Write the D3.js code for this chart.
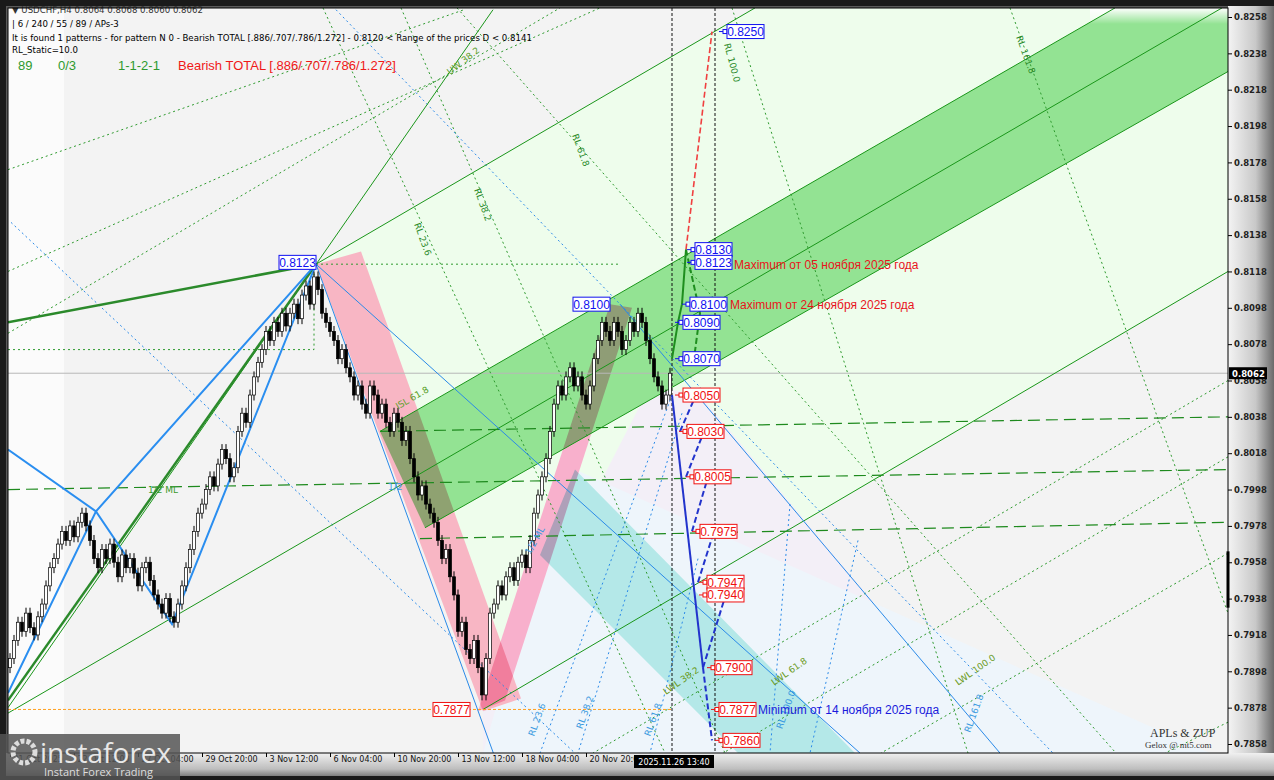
<!DOCTYPE html>
<html><head><meta charset="utf-8">
<script src="https://cdn.jsdelivr.net/npm/d3@7"></script>
<style>body{margin:0;background:#fff}svg{display:block}</style>
</head><body><svg id="c" width="1274" height="780"></svg>
<script>
// ---------- DATA ----------
const closes = [
0.7905,0.7915,0.7925,0.7920,0.7930,0.7922,0.7918,0.7928,0.7935,0.7945,
0.7955,0.7960,0.7968,0.7975,0.7970,0.7978,0.7972,0.7980,0.7985,0.7978,
0.7970,0.7960,0.7955,0.7965,0.7960,0.7968,0.7958,0.7950,0.7962,0.7955,
0.7960,0.7952,0.7945,0.7955,0.7958,0.7948,0.7940,0.7935,0.7930,0.7938,
0.7928,0.7925,0.7935,0.7945,0.7955,0.7965,0.7975,0.7985,0.7990,0.7998,
0.8005,0.8000,0.8012,0.8020,0.8015,0.8005,0.8010,0.8030,0.8040,0.8035,
0.8050,0.8060,0.8068,0.8075,0.8085,0.8080,0.8090,0.8085,0.8095,0.8088,
0.8095,0.8100,0.8092,0.8105,0.8110,0.8100,0.8115,0.8108,0.8095,0.8090,
0.8085,0.8080,0.8070,0.8075,0.8065,0.8060,0.8050,0.8055,0.8045,0.8040,
0.8055,0.8050,0.8040,0.8045,0.8035,0.8030,0.8040,0.8035,0.8025,0.8030,
0.8015,0.8005,0.7995,0.8000,0.7990,0.7985,0.7980,0.7970,0.7960,0.7965,
0.7950,0.7940,0.7920,0.7925,0.7910,0.7905,0.7915,0.7900,0.7885,0.7905,
0.7930,0.7935,0.7945,0.7940,0.7950,0.7955,0.7948,0.7958,0.7962,0.7955,
0.7970,0.7985,0.7995,0.8005,0.8015,0.8030,0.8045,0.8055,0.8050,0.8060,
0.8065,0.8055,0.8060,0.8050,0.8045,0.8055,0.8070,0.8080,0.8090,0.8085,
0.8080,0.8090,0.8085,0.8075,0.8080,0.8090,0.8085,0.8095,0.8090,0.8080,
0.8070,0.8060,0.8055,0.8045,0.8050,0.8062];
const firstOpen = 0.7900;
const wick = 0.0003;
const priceTicks = [0.8258,0.8238,0.8218,0.8198,0.8178,0.8158,0.8138,0.8118,0.8098,0.8078,0.8058,0.8038,0.8018,0.7998,0.7978,0.7958,0.7938,0.7918,0.7898,0.7878,0.7858];
const timeTickBars = [0,16,32,48,64,80,96,112,128,144];
const timeTickLabels = ["21 Oct 2025","22 Oct 12:00","27 Oct 04:00","29 Oct 20:00","3 Nov 12:00","6 Nov 04:00","10 Nov 20:00","13 Nov 12:00","18 Nov 04:00","20 Nov 20:00"];
const currentPrice = 0.8062;
const cursorBar = 165.5, cursorLabel = "2025.11.26 13:40";
const targetBar = 176.25;

// regions: [bar, price]
const paleGreen = [[76.5,0.8122],[186.25,0.8263],[304.5,0.8263],[304.5,0.8118],[118.25,0.7876]];
const lavender = [[118.25,0.7876],[160,0.8055],[172.5,0.8050],[247.5,0.7853],[118.25,0.7853]];
const paleBlue = [[132.5,0.7962],[141.25,0.8009],[300,0.7853],[118.25,0.7853]];
const cyanBand = [[141.25,0.8009],[211.25,0.7853],[182,0.7853],[132.5,0.7962]];
const greenBand = [[92.5,0.8030],[276.25,0.8263],[304.5,0.8263],[304.5,0.8228],[103.75,0.7977]];
const greenBandEdges = [[[92.5,0.8030],[276.25,0.8263]],[[103.75,0.7977],[304.5,0.8228]]];
const pinkBand1 = [[76.5,0.8122],[87.75,0.8129],[127.75,0.7883],[118.25,0.7876]];
const pinkBand2 = [[117,0.7876],[123.75,0.7882],[155.5,0.8098],[150,0.8100]];

const greenSolid = [
 [[76.5,0.8122],[186.25,0.8263]],
 [[-0.5,0.7878],[120.75,0.8262]],
 [[-0.5,0.7875],[303,0.8263]],
 [[118.25,0.7877],[304.5,0.8118]]];
const greenThick = [[[-0.5,0.8090],[76.5,0.8122]],[[-0.5,0.7882],[76.5,0.8122]]];
const blueThick = [[[-0.5,0.8020],[21.5,0.7986],[40.5,0.7924],[76.5,0.8122]],[[-0.5,0.7886],[21.5,0.7986],[76.5,0.8122]]];
const blueThin = [[[76.5,0.8122],[121.5,0.7849]],[[76.5,0.8122],[212.5,0.7853]],[[152.5,0.8100],[247.5,0.7853]]];
const blueDotted = [[[81.5,0.8262],[262.5,0.7849]],[[0.25,0.8145],[147.5,0.7840]],
 [[165.5,0.8050],[132.5,0.7853]],[[168,0.8040],[142,0.7853]],[[172,0.7960],[160,0.7853]],[[195,0.7990],[190,0.7853]],[[212,0.7970],[200,0.7853]]];
const greenDotted = [
 [[-0.5,0.8174],[113.5,0.8262]],[[-0.5,0.8118],[147.5,0.8263]],[[-0.5,0.8084],[137.5,0.8263]],
 [[78.25,0.8263],[163.75,0.7853]],[[97.75,0.8263],[178.75,0.7853]],[[111.75,0.8263],[276.5,0.7853]],
 [[180.5,0.8263],[239.5,0.7853]],[[250,0.8263],[304.5,0.7930]],
 [[304.5,0.8058],[145.75,0.7853]],[[304.5,0.8016],[178.25,0.7853]],[[304.5,0.7963],[217.75,0.7853]],[[304.5,0.7870],[288.75,0.7853]],
 [[-0.5,0.8075],[76,0.8075],[76,0.8122]],[[76.5,0.8122],[152.5,0.8122]]];
const greenLongDash = [[[92.5,0.8030],[304.5,0.8038]],[[-0.5,0.7998],[304.5,0.8009]],[[102.5,0.7971],[304.5,0.7980]]];
const redProj = [[169,0.8130],[175.5,0.8250]];
const greenProj = [[165.5,0.8070],[167,0.8090],[168,0.8100],[169,0.8130]];
const greenProjDash = [[[169,0.8130],[172.5,0.8095],[171,0.8070]]];
const blueProj = [[165.5,0.8050],[173.25,0.7900]];
const blueProjDash = [[[167.5,0.8030],[171.5,0.8050]],[[169,0.8005],[173.5,0.8030]],[[170.5,0.7975],[174.5,0.8005]],[[172,0.7947],[176,0.7975]],[[173.25,0.7900],[178.5,0.7937]],[[173.25,0.7900],[175.5,0.7860]]];

const boxLabels = [
 {p:0.8250,b:179.25,c:"blue"},{p:0.8130,b:171.25,c:"blue"},{p:0.8123,b:171.25,c:"blue"},
 {p:0.8100,b:170,c:"blue"},{p:0.8090,b:168.25,c:"blue"},{p:0.8070,b:168.25,c:"blue"},
 {p:0.8050,b:168.25,c:"red"},{p:0.8030,b:169.25,c:"red"},{p:0.8005,b:171,c:"red"},
 {p:0.7975,b:172.5,c:"red"},{p:0.7947,b:174.25,c:"red"},{p:0.7940,b:174.25,c:"red"},
 {p:0.7900,b:176.25,c:"red"},{p:0.7877,b:177.25,c:"red"},{p:0.7860,b:178.25,c:"red"}];
const leftLabels = [{p:0.8123,b:76.5,c:"blue"},{p:0.8100,b:150,c:"blue"},{p:0.7877,b:115,c:"red"}];
const notes = [
 {t:"Maximum от 05 ноября 2025 года",p:0.8122,b:181,c:"#e8141c"},
 {t:"Maximum от 24 ноября 2025 года",p:0.8100,b:180,c:"#e8141c"},
 {t:"Minimum от 14 ноября 2025 года",p:0.7877,b:187,c:"#1a1adc"}];
const lineTags = [
 {t:"UW 38.2",b:110,p:0.8226,r:-38,c:"#5aa02a"},{t:"RL 61.8",b:140.5,p:0.8193,r:70,c:"#2a8a2a"},
 {t:"RL 38.2",b:116,p:0.8163,r:70,c:"#2a8a2a"},{t:"RL 23.6",b:101,p:0.8144,r:70,c:"#2a8a2a"},
 {t:"RL 161.8",b:251.5,p:0.8247,r:70,c:"#2a8a2a"},{t:"RL 100.0",b:178.5,p:0.8243,r:75,c:"#2a8a2a"},
 {t:"1/2 ML",b:34.5,p:0.7996,r:0,c:"#3a9a2a"},{t:"1/2",b:94.5,p:0.7998,r:0,c:"#3a9ae0"},
 {t:"LWL 61.8",b:191,p:0.7890,r:-35,c:"#6a9a1a"},{t:"LWL 100.0",b:237,p:0.7890,r:-35,c:"#6a9a1a"},
 {t:"LWL 38.2",b:164,p:0.7885,r:-35,c:"#6a9a1a"},
 {t:"RL 23.6",b:131,p:0.7862,r:-70,c:"#3a9ae0"},{t:"RL 38.2",b:143,p:0.7866,r:-70,c:"#3a9ae0"},
 {t:"RL 61.8",b:160,p:0.7862,r:-70,c:"#3a9ae0"},{t:"RL 100.0",b:193,p:0.7866,r:-70,c:"#3a9ae0"},
 {t:"RL 161.8",b:240,p:0.7864,r:-70,c:"#3a9ae0"},
 {t:"1/2 ML",b:130,p:0.7962,r:-60,c:"#3a9ae0"},{t:"ISL 61.8",b:97,p:0.8042,r:-30,c:"#5aa02a"}];

// ---------- DRAW ----------
const svg = d3.select("#c");
const L=8,R=1228,T=8,B=753;
const x = d3.scaleLinear().domain([-0.5,304.5]).range([L,R]);
const y = d3.scaleLinear().domain([0.7858,0.8258]).range([744,17]);
const font = "'DejaVu Sans', Verdana, sans-serif";

const defs = svg.append("defs");
const gv = defs.append("linearGradient").attr("id","gv").attr("x1",0).attr("x2",1);
gv.append("stop").attr("offset",0).attr("stop-color","#f4f4f4");
gv.append("stop").attr("offset",0.6).attr("stop-color","#c8c8c8");
gv.append("stop").attr("offset",1).attr("stop-color","#6a6a6a");
const gh = defs.append("linearGradient").attr("id","gh").attr("x1",0).attr("x2",0).attr("y1",0).attr("y2",1);
gh.append("stop").attr("offset",0).attr("stop-color","#f0f0f0");
gh.append("stop").attr("offset",0.6).attr("stop-color","#bdbdbd");
gh.append("stop").attr("offset",1).attr("stop-color","#5a5a5a");
const gt = defs.append("linearGradient").attr("id","gt").attr("x1",0).attr("x2",0).attr("y1",0).attr("y2",1);
gt.append("stop").attr("offset",0).attr("stop-color","#ffffff").attr("stop-opacity",1);
gt.append("stop").attr("offset",1).attr("stop-color","#ffffff").attr("stop-opacity",0);
defs.append("clipPath").attr("id","clip").append("rect").attr("x",L).attr("y",T).attr("width",R-L).attr("height",B-T);

svg.append("rect").attr("width",1274).attr("height",780).attr("fill","#5a5a5a");
svg.append("rect").attr("x",R).attr("y",0).attr("width",1274-R).attr("height",780).attr("fill","url(#gv)");
svg.append("rect").attr("x",0).attr("y",B).attr("width",1274).attr("height",780-B).attr("fill","url(#gh)");
svg.append("rect").attr("x",0).attr("y",0).attr("width",1274).attr("height",6).attr("fill","#1a1a1a");
svg.append("rect").attr("x",0).attr("y",0).attr("width",6).attr("height",780).attr("fill","#1a1a1a");
svg.append("rect").attr("x",0).attr("y",776).attr("width",1274).attr("height",4).attr("fill","#1a1a1a");

const plot = svg.append("g").attr("clip-path","url(#clip)");
plot.append("rect").attr("x",L).attr("y",T).attr("width",R-L).attr("height",B-T).attr("fill","#f3f3f3");
plot.append("rect").attr("x",L).attr("y",T).attr("width",56).attr("height",B-T).attr("fill","#fbfbfb");

const poly = d => d.map(p=>[x(p[0]),y(p[1])].join(",")).join(" ");
const line = d3.line().x(p=>x(p[0])).y(p=>y(p[1]));

plot.append("polygon").attr("points",poly(paleGreen)).attr("fill","#eefdec");
plot.append("polygon").attr("points",poly(lavender)).attr("fill","#f3eff7");
plot.append("polygon").attr("points",poly(paleBlue)).attr("fill","#eef5fb");
const bands = plot.append("g").style("isolation","isolate");
bands.append("polygon").attr("points",poly(cyanBand)).attr("fill","#b4e8e8");
bands.append("polygon").attr("points",poly(greenBand)).attr("fill","#93e393").style("mix-blend-mode","multiply");
bands.append("polygon").attr("points",poly(pinkBand1)).attr("fill","#f8b6c4").style("mix-blend-mode","multiply");
bands.append("polygon").attr("points",poly(pinkBand2)).attr("fill","#f8b0cc").style("mix-blend-mode","multiply");
plot.append("rect").attr("x",1090).attr("y",T).attr("width",R-1090).attr("height",16).attr("fill","url(#gt)");

function draw(list, color, w, dash){
  list.forEach(d=>plot.append("path").attr("d",line(d)).attr("fill","none").attr("stroke",color).attr("stroke-width",w).attr("stroke-dasharray",dash||null));
}
plot.append("line").attr("x1",L).attr("x2",R).attr("y1",y(currentPrice)).attr("y2",y(currentPrice)).attr("stroke","#b8b8b8");
draw(greenDotted,"#2e9a2e",1,"2,3");
draw(blueDotted,"#2a8ae8",1,"2,3");
draw(greenLongDash,"#1e8a1e",1.2,"12,6");
draw(greenSolid,"#1a961a",1);
draw(greenBandEdges,"#1a961a",1);
draw(blueThin,"#2a8ae8",1);
draw(greenThick,"#2b8a2b",2.5);
draw(blueThick,"#2a8ef0",2);
plot.append("line").attr("x1",L).attr("x2",x(cursorBar)).attr("y1",y(0.7877)).attr("y2",y(0.7877)).attr("stroke","#ffa020").attr("stroke-dasharray","3,2");
[cursorBar,targetBar].forEach(b=>plot.append("line").attr("x1",x(b)).attr("x2",x(b)).attr("y1",T).attr("y2",B).attr("stroke","#111").attr("stroke-dasharray","3,2"));

const cg = plot.append("g");
closes.forEach((c,i)=>{
  const o = i===0?firstOpen:closes[i-1];
  const hi = Math.max(o,c)+wick, lo = Math.min(o,c)-wick;
  const cx = x(i);
  cg.append("line").attr("x1",cx).attr("x2",cx).attr("y1",y(hi)).attr("y2",y(lo)).attr("stroke","#000");
  const top = y(Math.max(o,c)), h = Math.max(1,Math.abs(y(o)-y(c)));
  cg.append("rect").attr("x",cx-1.5).attr("y",top).attr("width",3).attr("height",h)
    .attr("fill",c>=o?"#fff":"#000").attr("stroke","#000").attr("stroke-width",0.7);
});

draw([redProj],"#f04040",1.6,"6,3");
draw([greenProj],"#1e8e1e",2);
draw(greenProjDash,"#1e8e1e",2,"6,3");
draw([blueProj],"#2233cc",2);
draw(blueProjDash,"#2233cc",2,"6,3");

lineTags.forEach(t=>plot.append("text").attr("transform",`translate(${x(t.b)},${y(t.p)}) rotate(${t.r})`)
  .attr("font-family",font).attr("font-size",9).attr("fill",t.c).text(t.t));

function box(l, anchorRight){
  const w=37,h=14, yy=y(l.p);
  const col = l.c==="blue"?"#1010f0":"#f01010";
  const bx = anchorRight? x(l.b)-w : x(l.b);
  if(!anchorRight){
    svg.append("line").attr("x1",bx-8).attr("x2",bx).attr("y1",yy).attr("y2",yy).attr("stroke",col);
    svg.append("rect").attr("x",bx-4).attr("y",yy-2).attr("width",4).attr("height",4).attr("fill","#fff").attr("stroke",col);
  }
  svg.append("rect").attr("x",bx).attr("y",yy-h/2).attr("width",w).attr("height",h).attr("fill","#fff").attr("stroke",col);
  svg.append("text").attr("x",bx+w/2).attr("y",yy+4.5).attr("text-anchor","middle").attr("font-family","'Liberation Sans',Arial,sans-serif").attr("font-size",12).attr("fill",col).text(l.p.toFixed(4));
}
boxLabels.forEach(l=>box(l,false));
leftLabels.forEach(l=>box(l,true));
notes.forEach(n=>svg.append("text").attr("x",x(n.b)).attr("y",y(n.p)+4.5).attr("font-family","'Liberation Sans',Arial,sans-serif").attr("font-size",12).attr("fill",n.c).text(n.t));

const hdr = [["▼ USDCHF,H4  0.8064 0.8068 0.8060 0.8062",13],[" | 6 / 240 / 55 / 89 / APs-3",27],["It is found 1 patterns  -  for pattern N 0 - Bearish TOTAL [.886/.707/.786/1.272] - 0.8120 < Range of the prices D < 0.8141",41],["RL_Static=10.0",53]];
hdr.forEach(h=>svg.append("text").attr("x",12).attr("y",h[1]).attr("font-family",font).attr("font-size",8.6).attr("fill",h[1]===13?"#333":"#000").text(h[0]));
[["89",18,"#2e9a2e"],["0/3",58,"#2e9a2e"],["1-1-2-1",118,"#2e9a2e"],["Bearish TOTAL [.886/.707/.786/1.272]",178,"#f01818"]]
 .forEach(t=>svg.append("text").attr("x",t[1]).attr("y",70).attr("font-family","'Liberation Sans',Arial,sans-serif").attr("font-size",13).attr("fill",t[2]).text(t[0]));

svg.append("text").attr("x",1150).attr("y",737).attr("font-family","'Liberation Serif',serif").attr("font-size",12).attr("fill","#333").text("APLs & ZUP");
svg.append("text").attr("x",1145).attr("y",748).attr("font-family","'Liberation Serif',serif").attr("font-size",9).attr("fill","#333").text("Gelox @ mt5.com");

svg.append("rect").attr("x",L).attr("y",T).attr("width",R-L).attr("height",B-T).attr("fill","none").attr("stroke","#000");

const ay = svg.append("g").attr("transform",`translate(${R},0)`)
  .call(d3.axisRight(y).tickValues(priceTicks).tickFormat(d3.format(".4f")).tickSize(4));
ay.select(".domain").remove();
ay.selectAll("text").attr("font-family",font).attr("font-size",8.5).attr("font-weight","bold").attr("fill","#222").attr("dx",-1);
svg.append("rect").attr("x",R+1).attr("y",y(currentPrice)-6).attr("width",38).attr("height",12).attr("fill","#000");
svg.append("text").attr("x",R+4).attr("y",y(currentPrice)+4).attr("font-family",font).attr("font-size",8.5).attr("font-weight","bold").attr("fill","#fff").text(currentPrice.toFixed(4));
svg.append("line").attr("x1",R).attr("x2",R).attr("y1",y(0.7964)).attr("y2",y(0.7933)).attr("stroke","#000").attr("stroke-width",3);

const ax = svg.append("g").attr("transform",`translate(0,${B})`)
  .call(d3.axisBottom(x).tickValues(timeTickBars).tickFormat((d,i)=>timeTickLabels[i]).tickSize(4));
ax.select(".domain").remove();
ax.selectAll("text").attr("font-family",font).attr("font-size",8).attr("fill","#111").attr("text-anchor","start").attr("dx",3).attr("dy",2);
svg.append("rect").attr("x",x(cursorBar)-38).attr("y",B+2).attr("width",80).attr("height",13).attr("fill","#000");
svg.append("text").attr("x",x(cursorBar)+2).attr("y",B+12).attr("text-anchor","middle").attr("font-family",font).attr("font-size",8).attr("fill","#fff").text(cursorLabel);

const lg = svg.append("g");
lg.append("rect").attr("x",0).attr("y",734).attr("width",180).attr("height",46).attr("fill","#555").attr("opacity",0.85);
lg.append("circle").attr("cx",24).attr("cy",752).attr("r",11).attr("fill","none").attr("stroke","#ddd").attr("stroke-width",5).attr("stroke-dasharray","4,2");
lg.append("text").attr("x",40).attr("y",763).attr("font-family","'Open Sans',sans-serif").attr("font-size",28).attr("fill","#e8e8e8").text("instaforex");
lg.append("text").attr("x",44).attr("y",776).attr("font-family","'Open Sans',sans-serif").attr("font-size",11).attr("fill","#ddd").text("Instant Forex Trading");
</script></body></html>
